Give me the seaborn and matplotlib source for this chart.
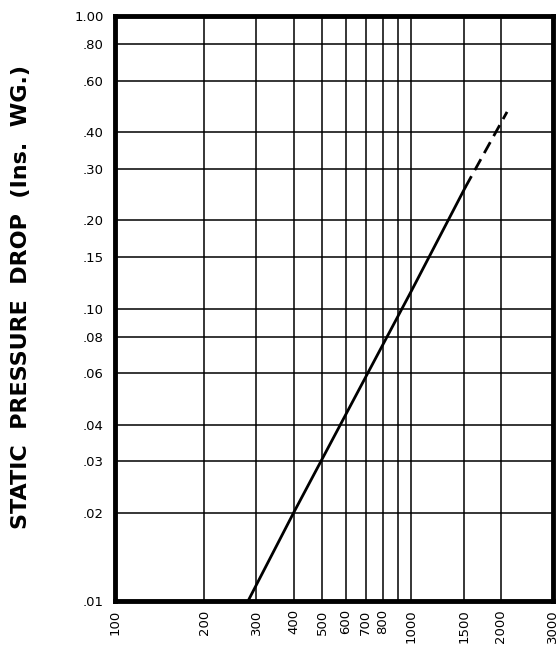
import matplotlib
matplotlib.use("Agg")
import matplotlib.pyplot as plt
import seaborn as sns
import pandas as pd

# curve (airflow vs. static pressure drop)
solid_x = [281, 400, 1000, 1520]
solid_y = [0.010, 0.020, 0.115, 0.260]
dash_x = [1520, 2100]
dash_y = [0.260, 0.470]

x_ticks = [100, 200, 300, 400, 500, 600, 700, 800, 1000, 1500, 2000, 3000]
x_grid = [200, 300, 400, 500, 600, 700, 800, 900, 1000, 1500, 2000]
y_ticks = [0.01, 0.02, 0.03, 0.04, 0.06, 0.08, 0.10, 0.15, 0.20, 0.30, 0.40, 0.60, 0.80, 1.00]
y_labels = [".01", ".02", ".03", ".04", ".06", ".08", ".10", ".15", ".20", ".30", ".40", ".60", ".80", "1.00"]
y_grid = [0.02, 0.03, 0.04, 0.06, 0.08, 0.10, 0.15, 0.20, 0.30, 0.40, 0.60, 0.80]

sns.set_style("white")
plt.rcParams["font.family"] = ["DejaVu Sans"]
plt.rcParams["text.color"] = "black"
plt.rcParams["xtick.color"] = "black"
plt.rcParams["ytick.color"] = "black"

fig = plt.figure(figsize=(5.59, 6.53), dpi=100)
ax = fig.add_axes([0.2057, 0.0796, 0.7835, 0.8959])

ax.set_xscale("log")
ax.set_yscale("log")
ax.set_xlim(100, 3000)
ax.set_ylim(0.01, 1.0)

for gx in x_grid:
    ax.axvline(gx, color="black", lw=1.1, zorder=1)
for gy in y_grid:
    ax.axhline(gy, color="black", lw=1.1, zorder=1)

solid = pd.DataFrame({"cfm": solid_x, "dp": solid_y})
dashed = pd.DataFrame({"cfm": dash_x, "dp": dash_y})
sns.lineplot(data=solid, x="cfm", y="dp", ax=ax, color="black", lw=2.0, zorder=3)
sns.lineplot(data=dashed, x="cfm", y="dp", ax=ax, color="black", lw=2.0,
             linestyle=(0, (4.5, 2.5)), zorder=3)

ax.minorticks_off()
ax.set_xticks(x_ticks)
ax.set_xticklabels([str(v) for v in x_ticks], rotation=90, fontsize=9.5)
ax.set_yticks(y_ticks)
ax.set_yticklabels(y_labels, fontsize=9.5)
ax.tick_params(axis="both", length=0)
ax.tick_params(axis="x", pad=6)
ax.tick_params(axis="y", pad=8)

ax.set_xlabel("")
ax.set_ylabel("")
fig.text(21 / 559, 1 - 297 / 653, "STATIC  PRESSURE  DROP  (Ins.  WG.)",
         rotation=90, fontsize=16, fontweight="bold", color="black",
         ha="center", va="center")

for s in ax.spines.values():
    s.set_linewidth(3.5)
    s.set_color("black")

fig.savefig("out.png", dpi=100)
